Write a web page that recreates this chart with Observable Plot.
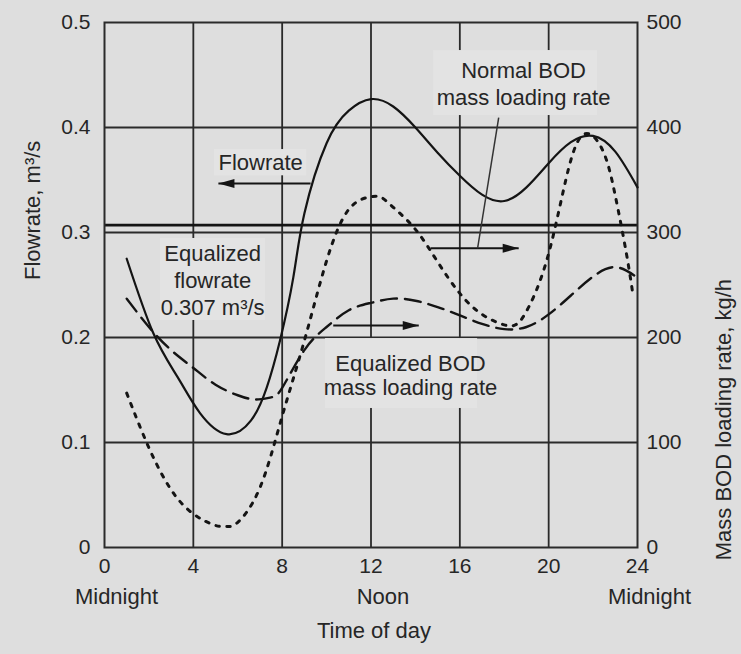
<!DOCTYPE html>
<html>
<head>
<meta charset="utf-8">
<script src="https://cdn.jsdelivr.net/npm/d3@7"></script>
<script src="https://cdn.jsdelivr.net/npm/@observablehq/plot@0.6"></script>
<style>
  html, body { margin: 0; padding: 0; background: #dedede; }
</style>
</head>
<body>
<div id="chart"></div>
<script>
// ---- Data ----
// Flowrate, m3/s (left axis)
const flowHours = [1, 2.2, 3.3, 4.3, 5.5, 6.6, 7.3, 7.9, 8.5, 9, 10, 11, 12, 13, 14, 15, 16, 17, 18, 19, 20, 21, 22, 23, 24];
const flowRate  = [0.275, 0.204, 0.162, 0.128, 0.108, 0.121, 0.152, 0.197, 0.257, 0.318, 0.385, 0.416, 0.427, 0.42, 0.4, 0.376, 0.354, 0.336, 0.33, 0.343, 0.366, 0.386, 0.392, 0.377, 0.343];

// Normal BOD mass loading rate, kg/h (right axis, dotted)
const bodHours = [1, 2, 3, 4, 5, 5.5, 6, 7, 8, 9, 10, 11, 12, 12.5, 13, 14, 15, 16, 17, 18, 18.5, 19, 20, 21, 21.8, 22.5, 23, 23.5, 23.8];
const bodRate  = [147, 95, 55, 32, 21, 20, 24, 57, 125, 197, 273, 322, 334, 333, 324, 303, 272, 242, 222, 212, 212, 225, 280, 369, 394, 375, 335, 280, 240];

// Equalized BOD mass loading rate, kg/h (right axis, dashed)
const eqBodHours = [1, 2, 3, 4, 5, 6, 6.8, 7.5, 8, 9, 10, 11, 12, 13, 14, 15, 16, 17, 18, 19, 20, 21, 22, 23, 24];
const eqBodRate  = [237, 210, 188, 171, 155, 145, 141, 143, 152, 188, 210, 226, 233, 237, 235, 229, 221, 213, 208, 210, 222, 240, 258, 267, 257];

// Equalized flowrate, m3/s
const equalizedFlow = 0.307;

// Ticks
const xTicks = [0, 4, 8, 12, 16, 20, 24];
const leftTicks = [0, 0.1, 0.2, 0.3, 0.4, 0.5];
const rightTicks = [0, 100, 200, 300, 400, 500];
const dayLabels = [{h: 0, t: "Midnight"}, {h: 12, t: "Noon"}, {h: 24, t: "Midnight"}];

// Annotation positions (data space: hours, m3/s)
const flowLabel = [{x: 7.03, y: 0.3667, t: "Flowrate"}];
const eqFlowLabel = [
  {x: 4.87, y: 0.280, t: "Equalized"},
  {x: 4.87, y: 0.2543, t: "flowrate"},
  {x: 4.87, y: 0.2286, t: "0.307 m³/s"}
];
const normalLabel = [
  {x: 18.87, y: 0.4543, t: "Normal BOD"},
  {x: 18.87, y: 0.4286, t: "mass loading rate"}
];
const eqBodLabel = [
  {x: 13.78, y: 0.1752, t: "Equalized BOD"},
  {x: 13.78, y: 0.1524, t: "mass loading rate"}
];
const boxes = [
  {x1: 4.95, x2: 9.1, y1: 0.354, y2: 0.379},
  {x1: 2.52, x2: 7.25, y1: 0.2162, y2: 0.2943},
  {x1: 14.82, x2: 22.2, y1: 0.4114, y2: 0.4733},
  {x1: 9.95, x2: 16.8, y1: 0.1324, y2: 0.199}
];
const arrows = [
  {x1: 9.28, y1: 0.3467, x2: 5.13, y2: 0.3467, rot: 180},
  {x1: 14.68, y1: 0.285, x2: 18.65, y2: 0.285, rot: 0},
  {x1: 10.3, y1: 0.2114, x2: 14.15, y2: 0.2114, rot: 0}
];
const leader = [{x1: 16.8, y1: 0.285, x2: 17.75, y2: 0.4095}];

// ---- Build ----
const flow = flowHours.map((h, i) => ({h, v: flowRate[i]}));
const bod = bodHours.map((h, i) => ({h, v: bodRate[i] / 1000}));
const eqBod = eqBodHours.map((h, i) => ({h, v: eqBodRate[i] / 1000}));

const ink = "#141414";
const txt = "#262626";
const gridC = "#2a2a2a";
const boxFill = "#e3e3e3";

const headRight = {draw(ctx) { ctx.moveTo(0, 0); ctx.lineTo(-16, -4.5); ctx.lineTo(-16, 4.5); ctx.closePath(); }};

const chart = Plot.plot({
  width: 741,
  height: 654,
  marginLeft: 104,
  marginRight: 104,
  marginTop: 22,
  marginBottom: 107,
  style: {fontFamily: "'Liberation Sans', Arial, sans-serif", fontSize: "22px", color: txt, background: "#dedede"},
  x: {domain: [0, 24]},
  y: {domain: [0, 0.5]},
  marks: [
    Plot.ruleX([4, 8, 12, 16, 20], {stroke: gridC, strokeWidth: 1.8}),
    Plot.ruleY([0.1, 0.2, 0.3, 0.4], {stroke: gridC, strokeWidth: 1.8}),
    Plot.rect(boxes, {x1: "x1", x2: "x2", y1: "y1", y2: "y2", fill: boxFill}),
    Plot.ruleY([equalizedFlow], {stroke: ink, strokeWidth: 2.6}),
    Plot.frame({stroke: gridC, strokeWidth: 2}),
    Plot.line(flow, {x: "h", y: "v", curve: "natural", stroke: ink, strokeWidth: 2.2}),
    Plot.line(bod, {x: "h", y: "v", curve: "natural", stroke: ink, strokeWidth: 3, strokeDasharray: "3.5,7.5"}),
    Plot.line(eqBod, {x: "h", y: "v", curve: "natural", stroke: ink, strokeWidth: 2.4, strokeDasharray: "16,8"}),
    Plot.link(arrows, {x1: "x1", y1: "y1", x2: "x2", y2: "y2", stroke: ink, strokeWidth: 2}),
    Plot.dot(arrows.filter(d => d.rot === 0), {x: "x2", y: "y2", symbol: headRight, fill: ink, stroke: "none", rotate: 0}),
    Plot.dot(arrows.filter(d => d.rot === 180), {x: "x2", y: "y2", symbol: headRight, fill: ink, stroke: "none", rotate: 180}),
    Plot.link(leader, {x1: "x1", y1: "y1", x2: "x2", y2: "y2", stroke: "#333", strokeWidth: 1.5}),
    Plot.text(flowLabel, {x: "x", y: "y", text: "t", fill: txt}),
    Plot.text(eqFlowLabel, {x: "x", y: "y", text: "t", fill: txt}),
    Plot.text(normalLabel, {x: "x", y: "y", text: "t", fill: txt}),
    Plot.text(eqBodLabel, {x: "x", y: "y", text: "t", fill: txt}),
    Plot.axisX(xTicks, {tickSize: 0, tickPadding: 11, label: null, fill: txt, fontSize: 21}),
    Plot.axisY(leftTicks, {anchor: "left", tickSize: 0, tickPadding: 14, label: null, fill: txt, fontSize: 21, tickFormat: d => String(d)}),
    Plot.axisY(rightTicks.map(v => v / 1000), {anchor: "right", tickSize: 0, tickPadding: 9, label: null, fill: txt, fontSize: 21, tickFormat: d => String(Math.round(d * 1000))}),
    Plot.text(dayLabels, {x: "h", text: "t", frameAnchor: "bottom", dy: 56, dx: 12, fill: txt}),
    Plot.text(["Time of day"], {frameAnchor: "bottom", dy: 90, dx: 3, fill: txt}),
    Plot.text(["Flowrate, m³/s"], {frameAnchor: "left", dx: -72, dy: -5, rotate: -90, fill: txt}),
    Plot.text(["Mass BOD loading rate, kg/h"], {frameAnchor: "right", dx: 86, dy: -6, rotate: -90, fill: txt})
  ]
});
document.getElementById("chart").appendChild(chart);
</script>
</body>
</html>
